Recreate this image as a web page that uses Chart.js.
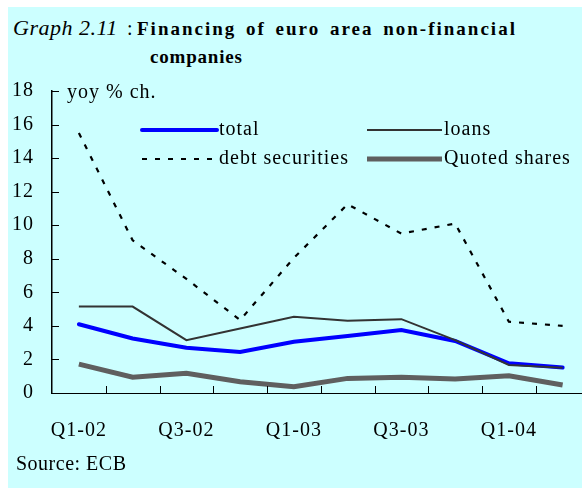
<!DOCTYPE html>
<html>
<head>
<meta charset="utf-8">
<script src="https://cdn.jsdelivr.net/npm/chart.js@4.4.1/dist/chart.umd.min.js"></script>
<style>
  body { margin: 0; overflow: hidden; background: #fff; font-family: "Liberation Serif", "DejaVu Serif", serif; }
  #bg { position: absolute; left: 8px; top: 7px; width: 600px; height: 500px; background: #CCFFFF; }
  #c { position: absolute; left: 0; top: 0; }
  .txt { position: absolute; white-space: nowrap; color: #000; }
  #graphNo { left: 13px; top: 16.6px; font-size: 22px; line-height: 22px; font-style: italic; letter-spacing: 0.5px; }
  #colon { left: 127px; top: 17.5px; font-size: 20px; line-height: 20px; }
  #title1, #title2 { font-size: 19px; line-height: 19px; font-weight: bold; }
  #title1 { left: 137px; top: 19.1px; letter-spacing: 2px; word-spacing: 3px; }
  #title2 { left: 150px; top: 47px; letter-spacing: 0.8px; }
  #src { left: 16px; top: 453px; font-size: 20px; line-height: 20px; letter-spacing: 0.5px; }
</style>
</head>
<body>
<div id="bg"></div>
<div id="graphNo" class="txt">Graph 2.11</div>
<div id="colon" class="txt">:</div>
<div id="title1" class="txt">Financing of euro area non-financial</div>
<div id="title2" class="txt">companies</div>
<canvas id="c" width="600" height="488"></canvas>
<div id="src" class="txt">Source: ECB</div>
<script>
// quarters, 2002 Q1 .. 2004 Q2
const quarters = ['Q1-02', 'Q2-02', 'Q3-02', 'Q4-02', 'Q1-03', 'Q2-03', 'Q3-03', 'Q4-03', 'Q1-04', 'Q2-04'];
const total = [4.1, 3.25, 2.7, 2.45, 3.05, 3.4, 3.75, 3.1, 1.77, 1.52];
const loans = [5.15, 5.15, 3.15, 3.85, 4.55, 4.3, 4.4, 3.15, 1.67, 1.5];
const debtSecurities = [15.5, 9.1, 6.8, 4.35, 8.05, 11.25, 9.5, 10.1, 4.25, 4.0];
const quotedShares = [1.72, 0.94, 1.17, 0.67, 0.38, 0.87, 0.94, 0.83, 1.03, 0.48];
const yTicks = [0, 2, 4, 6, 8, 10, 12, 14, 16, 18];

const FONT = '"Liberation Serif", "DejaVu Serif", serif';
const ink = '#000';

// tick marks point into the plot, so draw them by hand
const innerTicks = {
    id: 'innerTicks',
    afterDatasetsDraw(chart) {
        const { ctx, chartArea, scales } = chart;
        ctx.save();
        ctx.strokeStyle = ink;
        ctx.lineWidth = 1;
        ctx.beginPath();
        yTicks.forEach(v => {
            const y = Math.round(scales.y.getPixelForValue(v)) + 0.5;
            ctx.moveTo(chartArea.left, y);
            ctx.lineTo(chartArea.left + 7, y);
        });
        const step = chartArea.width / quarters.length;
        for (let i = 1; i < quarters.length; i++) {
            const x = Math.round(chartArea.left + i * step) + 0.5;
            ctx.moveTo(x, chartArea.bottom);
            ctx.lineTo(x, chartArea.bottom - 7);
        }
        ctx.stroke();
        ctx.restore();
    }
};

// legend sits inside the plot in two columns, plus the unit label
const legendBox = {
    id: 'legendBox',
    beforeDraw(chart) {
        chart.ctx.letterSpacing = '1px';
    },
    afterDraw(chart) {
        const { ctx } = chart;
        const items = [
            { ds: 0, x: 142, y: 130 },
            { ds: 1, x: 367, y: 130 },
            { ds: 2, x: 142, y: 159 },
            { ds: 3, x: 367, y: 159 }
        ];
        ctx.save();
        ctx.font = '20px ' + FONT;
        ctx.letterSpacing = '1px';
        ctx.fillStyle = ink;
        ctx.textBaseline = 'middle';
        ctx.fillText('yoy % ch.', 67, 93);
        items.forEach(it => {
            const ds = chart.data.datasets[it.ds];
            ctx.save();
            ctx.strokeStyle = ds.borderColor;
            ctx.lineWidth = ds.borderWidth;
            ctx.lineCap = ds.borderCapStyle || 'butt';
            ctx.setLineDash(ds.borderDash || []);
            ctx.beginPath();
            ctx.moveTo(it.x, it.y);
            ctx.lineTo(it.x + 75, it.y);
            ctx.stroke();
            ctx.restore();
            ctx.fillText(ds.label, it.x + 77, it.y);
        });
        ctx.restore();
    }
};

new Chart(document.getElementById('c'), {
    type: 'line',
    data: {
        labels: quarters,
        datasets: [
            { label: 'total', data: total, borderColor: '#0000FF', borderWidth: 4, borderCapStyle: 'round', order: 1 },
            { label: 'loans', data: loans, borderColor: '#333333', borderWidth: 2, order: 0 },
            { label: 'debt securities', data: debtSecurities, borderColor: '#000', borderWidth: 2.2, borderDash: [5, 8], order: 2 },
            { label: 'Quoted shares', data: quotedShares, borderColor: '#5f5f5f', borderWidth: 5, order: 3 }
        ]
    },
    options: {
        responsive: false,
        animation: false,
        devicePixelRatio: 1,
        layout: { padding: { top: 91, right: 10.5, left: 0, bottom: 0 } },
        elements: { point: { radius: 0 }, line: { tension: 0, fill: false } },
        plugins: { legend: { display: false }, tooltip: { enabled: false }, title: { display: false } },
        scales: {
            x: {
                offset: true,
                grid: { display: false, drawTicks: false },
                border: { display: true, color: ink, width: 1 },
                ticks: {
                    autoSkip: false,
                    maxRotation: 0,
                    padding: 26,
                    color: ink,
                    font: { family: FONT, size: 20 },
                    callback: (v, i) => (i % 2 === 0 ? quarters[i] : '')
                },
                afterFit: s => { s.height = 95; }
            },
            y: {
                min: 0,
                max: 18,
                grid: { display: false, drawTicks: false },
                border: { display: true, color: ink, width: 1.5 },
                ticks: { stepSize: 2, padding: 18, color: ink, font: { family: FONT, size: 20 } },
                afterFit: s => { s.width = 52; }
            }
        }
    },
    plugins: [innerTicks, legendBox]
});
</script>
</body>
</html>
